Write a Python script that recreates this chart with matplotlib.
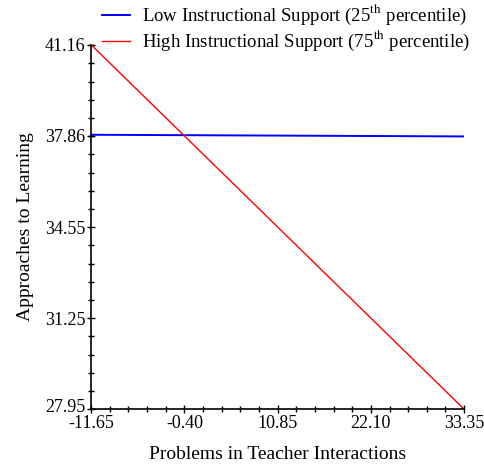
import matplotlib
matplotlib.use('Agg')
import matplotlib.pyplot as plt
import matplotlib.transforms as mtransforms
from matplotlib.ticker import AutoMinorLocator

plt.rcParams['font.family'] = ['Liberation Serif', 'DejaVu Serif']
plt.rcParams['mathtext.fontset'] = 'stix'

# data
x_ends = [-11.65, 33.35]
low_support = [37.90, 37.84]
high_support = [41.16, 27.95]
x_ticks = [-11.65, -0.40, 10.85, 22.10, 33.35]
y_ticks = [27.95, 31.25, 34.55, 37.86, 41.16]
y_tick_labels = ['27.95', '31.25', '34.55', '37.86', '41.16']

fig = plt.figure(figsize=(4.85, 4.72), dpi=100)
ax = fig.add_axes([0.188, 0.133, 0.769, 0.772])

ax.plot(x_ends, low_support, color='#0000ff', lw=1.4,
        label=r'Low Instructional Support (25$^{\mathrm{th}}$ percentile)')
ax.plot(x_ends, high_support, color='#ff0000', lw=1.0,
        label=r'High Instructional Support (75$^{\mathrm{th}}$ percentile)')

ax.set_xlim(x_ticks[0], x_ticks[-1])
ax.set_ylim(y_ticks[0], y_ticks[-1])
ax.set_xticks(x_ticks)
ax.set_xticklabels([f'{v:.2f}' for v in x_ticks])
ax.set_yticks(y_ticks)
ax.set_yticklabels(y_tick_labels)
ax.xaxis.set_minor_locator(AutoMinorLocator(5))
ax.yaxis.set_minor_locator(AutoMinorLocator(5))
ax.tick_params(which='major', direction='inout', length=6, width=1, labelsize=13, pad=1)
ax.tick_params(which='minor', direction='inout', length=4, width=1)

# nudge the lowest y label up a little so it clears the x labels
lbl = ax.get_yticklabels()[0]
lbl.set_transform(lbl.get_transform() + mtransforms.ScaledTranslation(0, 3 / 72, fig.dpi_scale_trans))

for s in ['top', 'right']:
    ax.spines[s].set_visible(False)
ax.spines['left'].set_linewidth(1.2)
ax.spines['bottom'].set_linewidth(1.2)

ax.set_xlabel('Problems in Teacher Interactions', fontsize=14, labelpad=10)
ax.set_ylabel('Approaches to Learning', fontsize=14, labelpad=8)

ax.legend(loc='lower left', bbox_to_anchor=(0.008, 0.956), frameon=False,
          fontsize=13.5, handlelength=1.5, handletextpad=0.64, labelspacing=0.1,
          borderaxespad=0)

fig.savefig('out.png', dpi=100)
